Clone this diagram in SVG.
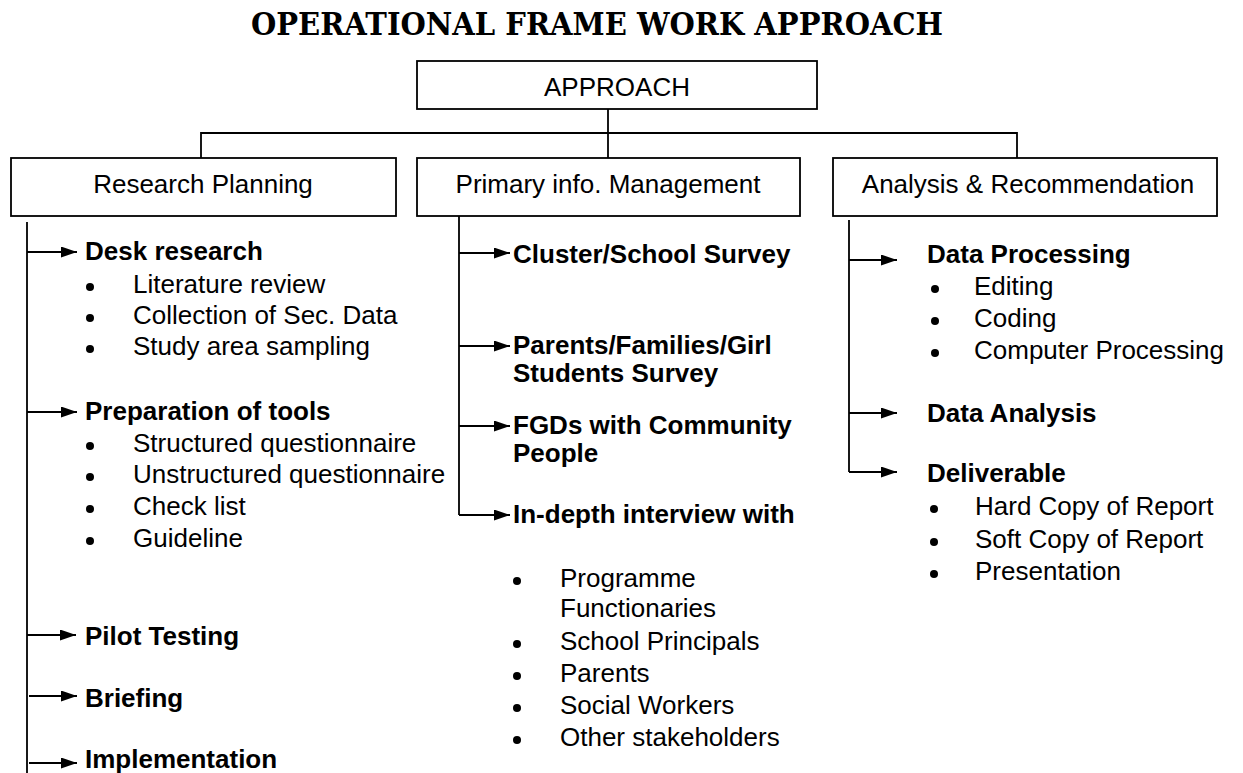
<svg xmlns="http://www.w3.org/2000/svg" width="1243" height="773" viewBox="0 0 1243 773">
  <defs>
    <marker id="arrow" markerUnits="userSpaceOnUse" markerWidth="16" markerHeight="11" refX="16" refY="5.5" orient="auto">
      <path d="M0,0 L16,5.5 L0,11 Z" fill="#000"/>
    </marker>
    <style>
      .box { fill: #fff; stroke: #000; stroke-width: 1.8; }
      .line { fill: none; stroke: #000; stroke-width: 1.8; }
      .arr { fill: none; stroke: #000; stroke-width: 1.8; marker-end: url(#arrow); }
      .lbl { font-family: "Liberation Sans", Arial, sans-serif; font-size: 26px; fill: #000; text-anchor: middle; }
      .hd { font-family: "Liberation Sans", Arial, sans-serif; font-size: 26px; font-weight: bold; fill: #000; }
      .it { font-family: "Liberation Sans", Arial, sans-serif; font-size: 26px; fill: #000; }
      .dot { fill: #000; }
      .title { font-family: "DejaVu Serif", "Liberation Serif", serif; font-size: 31px; font-weight: bold; fill: #000; }
    </style>
  </defs>
  <rect width="1243" height="773" fill="#fff"/>

  <text class="title" x="251" y="35" textLength="692" lengthAdjust="spacingAndGlyphs">OPERATIONAL FRAME WORK APPROACH</text>

  <!-- connectors -->
  <g id="connectors">
    <path class="line" d="M608,109 V159"/>
    <path class="line" d="M201,159 V133 H1017 V159"/>
    <!-- Research Planning branch -->
    <path class="line" d="M27,222 V773"/>
    <path class="arr" d="M27,252 H77"/>
    <path class="arr" d="M27,412 H77"/>
    <path class="arr" d="M27,635 H76"/>
    <path class="arr" d="M29,696 H77"/>
    <path class="arr" d="M29,763 H77"/>
    <!-- Primary info. Management branch -->
    <path class="line" d="M459,216 V515"/>
    <path class="arr" d="M459,253 H510"/>
    <path class="arr" d="M459,346 H510"/>
    <path class="arr" d="M459,426 H510"/>
    <path class="arr" d="M459,515 H510"/>
    <!-- Analysis & Recommendation branch -->
    <path class="line" d="M849,220 V472"/>
    <path class="arr" d="M849,260 H897"/>
    <path class="arr" d="M849,413 H897"/>
    <path class="arr" d="M849,472 H897"/>
  </g>

  <g id="approach">
    <rect class="box" x="417" y="61" width="400" height="48"/>
    <text class="lbl" x="617" y="96">APPROACH</text>
  </g>

  <g id="research-planning">
    <rect class="box" x="11" y="158" width="385" height="58"/>
    <text class="lbl" x="203" y="193">Research Planning</text>
  </g>

  <g id="primary-info">
    <rect class="box" x="417" y="158" width="383" height="58"/>
    <text class="lbl" x="608" y="193">Primary info. Management</text>
  </g>

  <g id="analysis">
    <rect class="box" x="833" y="158" width="384" height="58"/>
    <text class="lbl" x="1028" y="193">Analysis &amp; Recommendation</text>
  </g>

  <!-- Research Planning steps -->
  <g id="desk-research">
    <text class="hd" x="85" y="260">Desk research</text>
    <circle class="dot" cx="90" cy="287" r="4"/>
    <text class="it" x="133" y="293">Literature review</text>
    <circle class="dot" cx="90" cy="318" r="4"/>
    <text class="it" x="133" y="324">Collection of Sec. Data</text>
    <circle class="dot" cx="90" cy="349" r="4"/>
    <text class="it" x="133" y="355">Study area sampling</text>
  </g>
  <g id="preparation-of-tools">
    <text class="hd" x="85" y="420">Preparation of tools</text>
    <circle class="dot" cx="90" cy="446" r="4"/>
    <text class="it" x="133" y="452">Structured questionnaire</text>
    <circle class="dot" cx="90" cy="477" r="4"/>
    <text class="it" x="133" y="483">Unstructured questionnaire</text>
    <circle class="dot" cx="90" cy="509" r="4"/>
    <text class="it" x="133" y="515">Check list</text>
    <circle class="dot" cx="90" cy="541" r="4"/>
    <text class="it" x="133" y="547">Guideline</text>
  </g>
  <g id="pilot-testing">
    <text class="hd" x="85" y="645">Pilot Testing</text>
  </g>
  <g id="briefing">
    <text class="hd" x="85" y="707">Briefing</text>
  </g>
  <g id="implementation">
    <text class="hd" x="85" y="768">Implementation</text>
  </g>

  <!-- Primary info. Management steps -->
  <g id="cluster-survey">
    <text class="hd" x="513" y="263">Cluster/School Survey</text>
  </g>
  <g id="parents-survey">
    <text class="hd" x="513" y="354">Parents/Families/Girl</text>
    <text class="hd" x="513" y="382">Students Survey</text>
  </g>
  <g id="fgds">
    <text class="hd" x="513" y="434">FGDs with Community</text>
    <text class="hd" x="513" y="462">People</text>
  </g>
  <g id="in-depth-interview">
    <text class="hd" x="513" y="523">In-depth interview with</text>
    <circle class="dot" cx="517" cy="581" r="4"/>
    <text class="it" x="560" y="587">Programme</text>
    <text class="it" x="560" y="617">Functionaries</text>
    <circle class="dot" cx="517" cy="644" r="4"/>
    <text class="it" x="560" y="650">School Principals</text>
    <circle class="dot" cx="517" cy="676" r="4"/>
    <text class="it" x="560" y="682">Parents</text>
    <circle class="dot" cx="517" cy="708" r="4"/>
    <text class="it" x="560" y="714">Social Workers</text>
    <circle class="dot" cx="517" cy="740" r="4"/>
    <text class="it" x="560" y="746">Other stakeholders</text>
  </g>

  <!-- Analysis & Recommendation steps -->
  <g id="data-processing">
    <text class="hd" x="927" y="263">Data Processing</text>
    <circle class="dot" cx="935" cy="289" r="4"/>
    <text class="it" x="974" y="295">Editing</text>
    <circle class="dot" cx="935" cy="321" r="4"/>
    <text class="it" x="974" y="327">Coding</text>
    <circle class="dot" cx="935" cy="353" r="4"/>
    <text class="it" x="974" y="359">Computer Processing</text>
  </g>
  <g id="data-analysis">
    <text class="hd" x="927" y="422">Data Analysis</text>
  </g>
  <g id="deliverable">
    <text class="hd" x="927" y="482">Deliverable</text>
    <circle class="dot" cx="934" cy="509" r="4"/>
    <text class="it" x="975" y="515">Hard Copy of Report</text>
    <circle class="dot" cx="934" cy="542" r="4"/>
    <text class="it" x="975" y="548">Soft Copy of Report</text>
    <circle class="dot" cx="934" cy="574" r="4"/>
    <text class="it" x="975" y="580">Presentation</text>
  </g>
</svg>
